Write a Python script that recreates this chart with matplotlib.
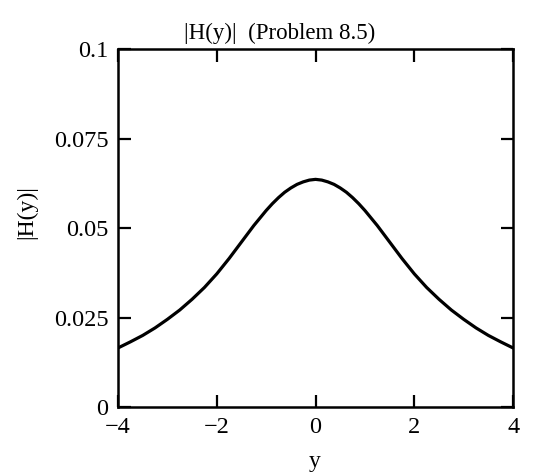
import matplotlib.pyplot as plt

# |H(y)|
y = [-4.0, -3.75, -3.5, -3.25, -3.0, -2.75, -2.5, -2.25, -2.0, -1.75, -1.5, -1.25,
     -1.0, -0.875, -0.75, -0.625, -0.5, -0.375, -0.25, -0.125,
     0.0, 0.125, 0.25, 0.375, 0.5, 0.625, 0.75, 0.875, 1.0,
     1.25, 1.5, 1.75, 2.0, 2.25, 2.5, 2.75, 3.0, 3.25, 3.5, 3.75, 4.0]
H = [0.0165, 0.0182, 0.0200, 0.0221, 0.0245, 0.0271, 0.0301, 0.0334, 0.0372, 0.0415, 0.0461, 0.0507,
     0.0549, 0.0568, 0.0585, 0.0600, 0.0612, 0.0622, 0.0629, 0.0634,
     0.0636, 0.0634, 0.0629, 0.0622, 0.0612, 0.0600, 0.0585, 0.0568, 0.0549,
     0.0507, 0.0461, 0.0415, 0.0372, 0.0334, 0.0301, 0.0271, 0.0245, 0.0221, 0.0200, 0.0182, 0.0165]

xticks = [-4, -2, 0, 2, 4]
xlabels = ["\u22124", "\u22122", "0", "2", "4"]
yticks = [0, 0.025, 0.05, 0.075, 0.1]
ylabels = ["0", "0.025", "0.05", "0.075", "0.1"]

plt.rcParams['font.family'] = ['Liberation Serif', 'DejaVu Serif']

fig = plt.figure(figsize=(5.35, 4.72), dpi=100)
ax = fig.add_axes([0.2206, 0.1377, 0.959 - 0.2206, 0.896 - 0.1377])
ax.plot(y, H, color="black", lw=2.3, solid_joinstyle="round")
ax.set_xlim(-4, 4)
ax.set_ylim(0, 0.1)
ax.set_xticks(xticks)
ax.set_xticklabels(xlabels)
ax.set_yticks(yticks)
ax.set_yticklabels(ylabels)
ax.tick_params(direction="in", length=9, width=1.6, labelsize=17.5, pad=7,
               top=True, right=True)
for s in ax.spines.values():
    s.set_linewidth(1.8)

ax.set_ylabel("|H(y)|", fontsize=17)
ax.yaxis.set_label_coords(-0.205, 0.545)
fig.text(315 / 535, 1 - 461 / 472, "y", fontsize=17, ha="center", va="center")
fig.text(280 / 535, 1 - 33 / 472, "|H(y)|  (Problem 8.5)", fontsize=16.5, ha="center", va="center")

fig.savefig("out.png", dpi=100)
